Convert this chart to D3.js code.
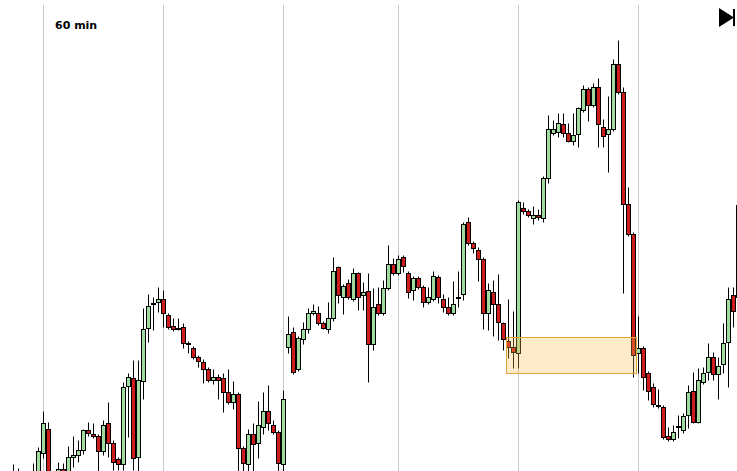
<!DOCTYPE html>
<meta charset="utf-8">
<style>
  body { margin: 0; background: #fff; }
  .wick { stroke: #000; stroke-width: 1; }
  .up { fill: #a0dca0; stroke: #000; stroke-width: 1; }
  .down { fill: #cc1c1c; stroke: #000; stroke-width: 1; }
  .grid { stroke: #c8c8c8; stroke-width: 1; }
  .title { font-family: "DejaVu Sans", sans-serif; font-weight: bold; font-size: 11px; }
</style>
<body>
<script src="https://d3js.org/d3.v7.min.js"></script>
<script>

  // 60 min candles
  var openP = [120,122,120,126,122,114,116,125,147,171,120,124,131,126,143,145,150,170,166,164,
    149,177,157,141,136,214,222,143,219,272,296,298,301,285,274,271,273,257,252,243,
    238,231,220,223,222,208,198,206,152,136,166,157,173,189,175,168,136,253,268,231,
    261,271,287,287,277,271,282,333,303,317,301,327,305,309,256,296,287,312,336,327,
    343,327,310,322,313,298,301,323,301,293,287,302,306,378,357,350,341,287,308,296,
    277,259,253,247,392,389,382,385,382,422,467,468,476,467,459,466,490,511,495,513,
    473,466,471,536,508,396,366,247,252,227,213,194,193,164,161,173,170,185,209,178,
    218,228,243,226,236,258,305,303];
  var highP = [128,126,136,132,126,127,137,153,189,178,126,138,137,154,164,160,171,178,177,166,
    180,198,160,143,218,227,240,240,292,306,303,313,310,287,282,282,277,259,254,245,
    241,233,231,226,227,231,219,208,154,171,177,199,208,215,180,170,210,284,273,264,
    278,292,296,294,279,298,343,334,316,321,332,328,318,327,312,313,320,355,342,345,
    345,329,324,324,315,313,329,325,306,303,319,329,378,383,359,353,343,317,320,326,
    278,301,289,400,398,391,394,391,424,485,480,487,487,477,487,493,515,513,517,522,
    481,504,541,560,513,413,368,284,254,229,217,211,195,173,175,185,187,215,228,232,
    233,257,248,243,277,313,313,400];
  var lowP = [115,110,116,114,108,110,112,122,142,118,106,120,122,122,133,138,146,164,162,128,
    145,143,130,130,130,163,130,129,201,258,270,288,273,271,269,270,252,247,241,233,
    217,218,216,201,188,196,191,129,125,125,125,142,166,170,166,125,129,247,226,229,
    256,267,285,275,271,267,279,297,286,301,299,290,290,218,250,285,285,310,325,325,
    328,302,300,311,293,296,299,297,288,285,285,293,300,355,347,319,271,270,264,260,
    250,242,232,232,386,383,376,380,378,417,465,463,463,458,455,453,488,479,493,453,
    453,428,469,506,307,364,223,227,210,200,193,192,161,159,159,162,167,172,177,177,
    216,220,220,201,227,213,273,300];
  var closeP = [125,115,127,118,112,124,128,149,177,122,110,131,126,143,145,150,170,167,164,149,
    175,157,138,136,213,223,142,220,271,294,297,301,287,273,271,272,257,256,243,239,
    231,220,223,220,208,198,206,152,137,166,156,175,189,177,168,137,201,266,228,262,
    271,287,289,277,272,282,329,305,314,303,327,303,308,256,293,287,312,336,327,341,
    334,308,322,313,298,303,324,303,293,287,296,303,376,357,352,341,287,310,296,278,
    261,253,248,398,389,385,385,383,422,471,471,477,467,459,465,492,511,495,513,476,
    464,471,536,508,396,366,245,252,223,209,196,195,163,161,168,174,184,208,178,220,
    227,243,226,234,257,301,289,395];

  // day separators (candle index) and the marked zone
  var dayStarts = [8, 32, 56, 79, 103, 127];
  var zoneFrom = 101, zoneTo = 126, zoneTop = 263, zoneBottom = 227;

  var width = 737, height = 471;

  var data = openP.map(function (o, i) {
    return { i: i, open: o, high: highP[i], low: lowP[i], close: closeP[i] };
  });

  var x = d3.scaleBand()
    .domain(data.map(function (d) { return d.i; }))
    .range([1, 1 + 5 * data.length])
    .padding(0);
  var y = d3.scaleLinear()
    .domain([129, 600])
    .range([height, 0]);

  function cx(i) { return x(i) + x.bandwidth() / 2; }
  function py(v) { return Math.round(y(v)) + 0.5; }

  var svg = d3.select("body").append("svg")
    .attr("width", width)
    .attr("height", height);

  // vertical day lines
  svg.selectAll(".grid")
    .data(dayStarts)
    .enter().append("line")
    .attr("class", "grid")
    .attr("x1", function (d) { return cx(d); })
    .attr("x2", function (d) { return cx(d); })
    .attr("y1", 5)
    .attr("y2", height);

  // wicks
  svg.selectAll(".wick")
    .data(data)
    .enter().append("line")
    .attr("class", "wick")
    .attr("x1", function (d) { return cx(d.i); })
    .attr("x2", function (d) { return cx(d.i); })
    .attr("y1", function (d) { return py(d.high); })
    .attr("y2", function (d) { return py(d.low); });

  // bodies
  svg.selectAll(".body")
    .data(data)
    .enter().append("rect")
    .attr("class", function (d) { return d.close >= d.open ? "up" : "down"; })
    .attr("x", function (d) { return cx(d.i) - 2; })
    .attr("width", 4)
    .attr("y", function (d) { return py(Math.max(d.open, d.close)); })
    .attr("height", function (d) {
      return Math.max(1, py(Math.min(d.open, d.close)) - py(Math.max(d.open, d.close)));
    });

  // zone box
  svg.append("rect")
    .attr("x", x(zoneFrom) + 0.5)
    .attr("width", x(zoneTo) + x.bandwidth() - x(zoneFrom))
    .attr("y", py(zoneTop))
    .attr("height", py(zoneBottom) - py(zoneTop))
    .style("fill", "rgba(253, 190, 80, 0.3)")
    .style("stroke", "#e3a53a")
    .style("stroke-width", 1);

  svg.append("text")
    .attr("class", "title")
    .attr("x", 55)
    .attr("y", 29)
    .text("60 min");

  // play marker, top right
  svg.append("path")
    .attr("d", "M719,8L719,27L734,17.5Z")
    .style("fill", "#000");
  svg.append("rect")
    .attr("x", 733)
    .attr("y", 9)
    .attr("width", 2)
    .attr("height", 17)
    .style("fill", "#000");

</script>
</body>
